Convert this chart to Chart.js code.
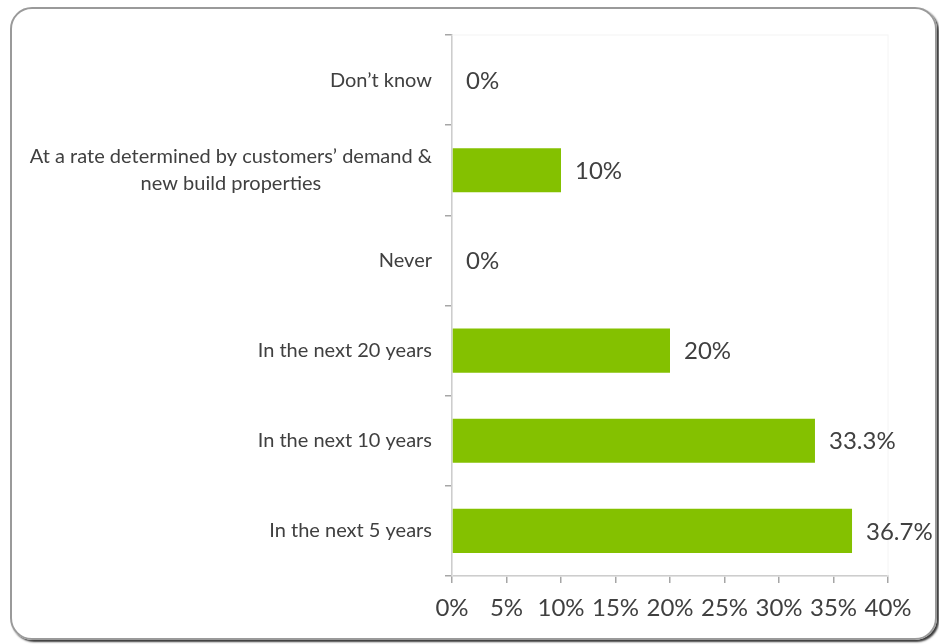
<!DOCTYPE html>
<html>
<head>
<meta charset="utf-8">
<script src="https://cdn.jsdelivr.net/npm/chart.js@4"></script>
<style>
    html, body { margin: 0; padding: 0; background: #fff; }
    #wrap { position: relative; width: 939px; height: 644px; overflow: hidden; }
    #frame {
        position: absolute; left: 10px; top: 7px; width: 927px; height: 633px;
        box-sizing: border-box; border: 2px solid #9a9a9a; border-radius: 22px;
        box-shadow: 2px 2px 2px #3a3a3a;
    }
    #chart { position: absolute; left: 0; top: 0; }
</style>
</head>
<body>
<div id="wrap">
    <div id="frame"></div>
    <canvas id="chart" width="939" height="644"></canvas>
</div>
<script>
// answers, top to bottom
const categories = [
    "Don\u2019t know",
    ["At a rate determined by customers\u2019 demand &", "new build properties"],
    "Never",
    "In the next 20 years",
    "In the next 10 years",
    "In the next 5 years"
];
const shares = [0, 10, 0, 20, 33.3, 36.7];
const xTicks = [0, 5, 10, 15, 20, 25, 30, 35, 40];

const textColor = '#404040';
const axisColor = '#a6a6a6';

// value labels to the right of each bar
const valueLabels = {
    id: 'valueLabels',
    afterDatasetsDraw(chart) {
        const ctx = chart.ctx;
        const meta = chart.getDatasetMeta(0);
        ctx.save();
        ctx.font = '24px Lato';
        ctx.fillStyle = textColor;
        ctx.textAlign = 'left';
        ctx.textBaseline = 'middle';
        meta.data.forEach((bar, i) => {
            ctx.fillText(shares[i] + '%', bar.x + 14, bar.y + 1);
        });
        ctx.restore();
    }
};

// category labels: block right-aligned to the axis, lines centred inside it
const categoryLabels = {
    id: 'categoryLabels',
    afterDraw(chart) {
        const ctx = chart.ctx;
        const yScale = chart.scales.y;
        const right = chart.chartArea.left - 20;
        const lineHeight = 27;
        ctx.save();
        ctx.font = '20px Lato';
        ctx.fillStyle = textColor;
        ctx.textAlign = 'center';
        ctx.textBaseline = 'middle';
        categories.forEach((label, i) => {
            const lines = Array.isArray(label) ? label : [label];
            const w = Math.max(...lines.map(l => ctx.measureText(l).width));
            const cx = right - w / 2;
            const y0 = yScale.getPixelForTick(i) - (lines.length - 1) * lineHeight / 2;
            lines.forEach((l, k) => ctx.fillText(l, cx, y0 + k * lineHeight));
        });
        ctx.restore();
    }
};

// faint plot area outline
const plotOutline = {
    id: 'plotOutline',
    beforeDatasetsDraw(chart) {
        const { ctx, chartArea } = chart;
        ctx.save();
        ctx.strokeStyle = '#f4f4f4';
        ctx.lineWidth = 1;
        ctx.strokeRect(chartArea.left, chartArea.top, chartArea.right - chartArea.left, chartArea.bottom - chartArea.top);
        ctx.restore();
    }
};

new Chart(document.getElementById('chart'), {
    type: 'bar',
    data: {
        labels: categories,
        datasets: [{
            data: shares,
            backgroundColor: '#84c100',
            borderWidth: 0,
            categoryPercentage: 1,
            barPercentage: 0.49
        }]
    },
    options: {
        indexAxis: 'y',
        responsive: false,
        devicePixelRatio: 1,
        animation: false,
        layout: { padding: { top: 35, right: 51, left: 0, bottom: 0 } },
        plugins: {
            legend: { display: false },
            tooltip: { enabled: false }
        },
        scales: {
            x: {
                min: 0,
                max: 40,
                afterBuildTicks: (s) => { s.ticks = xTicks.map(v => ({ value: v })); },
                afterFit: (s) => { s.height = 68; },
                ticks: {
                    callback: (v) => v + '%',
                    color: textColor,
                    font: { family: 'Lato', size: 24 },
                    padding: 11,
                    maxRotation: 0,
                    autoSkip: false
                },
                grid: { drawOnChartArea: false, tickLength: 7, color: axisColor, lineWidth: 1.5 },
                border: { color: axisColor, width: 1.5 }
            },
            y: {
                afterFit: (s) => { s.width = 452; },
                ticks: { display: false },
                grid: { drawOnChartArea: false, tickLength: 7, color: axisColor, lineWidth: 1.5, offset: true },
                border: { color: axisColor, width: 1.5 }
            }
        }
    },
    plugins: [plotOutline, valueLabels, categoryLabels]
});
</script>
</body>
</html>
